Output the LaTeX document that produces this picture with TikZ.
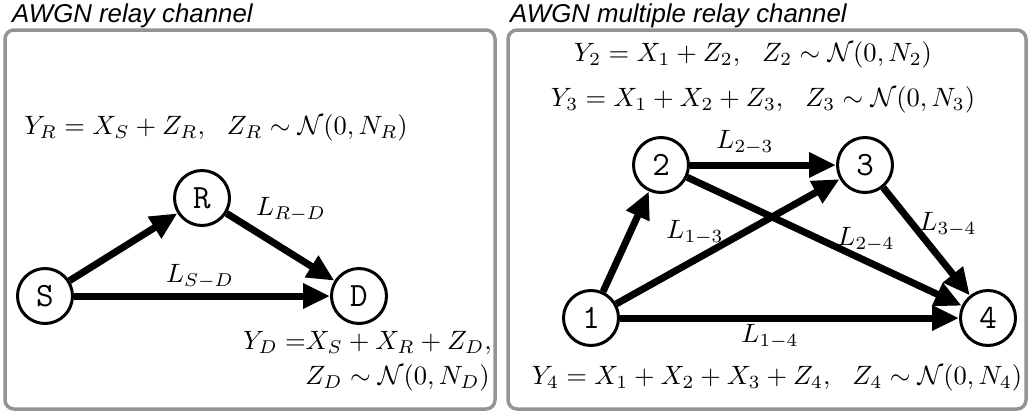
\documentclass[tikz,border=0pt]{standalone}
\usepackage{fontspec}
\usepackage{graphicx}
\setsansfont{Liberation Sans}
\usetikzlibrary{arrows.meta}
\newcommand{\mymath}[1]{\scalebox{2.65}{$#1$}}
\begin{document}
\begin{tikzpicture}[x=1pt,y=-1pt,
  panel/.style={draw=black!42, line width=3.5pt, rounded corners=9pt},
  title/.style={anchor=base west, inner sep=0pt, font=\fontsize{25.8}{28}\selectfont\sffamily\itshape},
  nd/.style={circle, draw, line width=3pt, minimum size=55pt, inner sep=0pt, font=\fontsize{34}{36}\selectfont\ttfamily},
  arr/.style={line width=7pt, -{Triangle[length=27pt,width=24pt]}},
  eq/.style={inner sep=0pt, font=\normalsize},
  lab/.style={inner sep=0pt, font=\normalsize}]
\useasboundingbox (0,0) rectangle (1031,416);
% panels
\draw[panel] (5,30) rectangle (495,409);
\draw[panel] (508,30) rectangle (1026,409);
\node[title] (t1) at (12,22) {AWGN relay channel};
\node[title] (t2) at (510,22) {AWGN multiple relay channel};
% left diagram
\node[nd] (S) at (45,296) {S};
\node[nd] (R) at (202,198) {R};
\node[nd] (D) at (359,296) {D};
\draw[arr] (S) -- (R);
\draw[arr] (R) -- (D);
\draw[arr] (S) -- (D);
\node[lab] (lrd) at (291,210) {\mymath{L_{R-D}}};
\node[lab] (lsd) at (200,277) {\mymath{L_{S-D}}};
\node[eq] (yr) at (216,128) {\mymath{Y_R = X_S + Z_R,\ \ Z_R \sim \mathcal{N}(0, N_R)}};
\node[eq, anchor=east] (yd) at (492,343) {\mymath{Y_D\;{=}X_S + X_R + Z_D,}};
\node[eq, anchor=east] (zd) at (490,378) {\mymath{Z_D \sim \mathcal{N}(0, N_D)}};
% right diagram
\node[nd] (n1) at (591,318) {1};
\node[nd] (n2) at (661,165) {2};
\node[nd] (n3) at (865,165) {3};
\node[nd] (n4) at (988,318) {4};
\draw[arr] (n1) -- (n2);
\draw[arr] (n1) -- (n3);
\draw[arr] (n1) -- (n4);
\draw[arr] (n2) -- (n3);
\draw[arr] (n2) -- (n4);
\draw[arr] (n3) -- (n4);
\node[lab] (l23) at (745,143) {\mymath{L_{2-3}}};
\node[lab] (l13) at (695,233) {\mymath{L_{1-3}}};
\node[lab] (l24) at (866,240) {\mymath{L_{2-4}}};
\node[lab] (l34) at (948,225) {\mymath{L_{3-4}}};
\node[lab] (l14) at (770,337) {\mymath{L_{1-4}}};
\node[eq] (y2) at (753,55) {\mymath{Y_2 = X_1 + Z_2,\ \ Z_2 \sim \mathcal{N}(0, N_2)}};
\node[eq] (y3) at (763,100) {\mymath{Y_3 = X_1 + X_2 + Z_3,\ \ Z_3 \sim \mathcal{N}(0, N_3)}};
\node[eq] (y4) at (777,378) {\mymath{Y_4 = X_1 + X_2 + X_3 + Z_4,\ \ Z_4 \sim \mathcal{N}(0, N_4)}};
\end{tikzpicture}
\end{document}
